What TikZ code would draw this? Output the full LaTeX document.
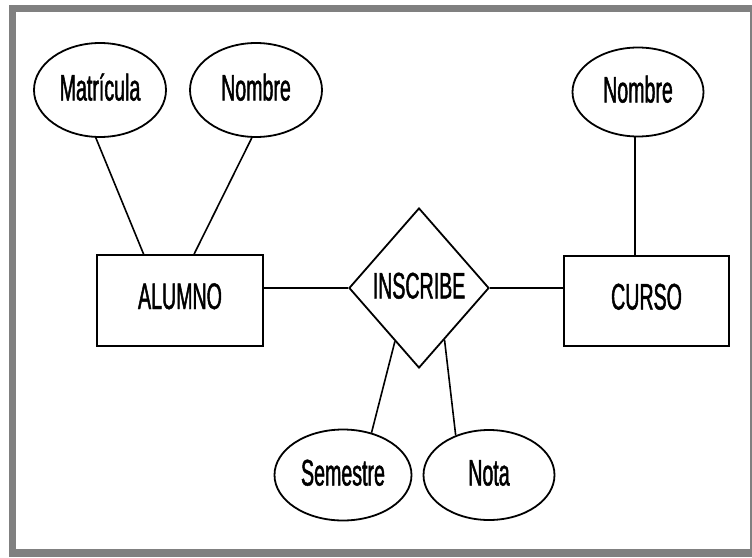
\documentclass[tikz,border=0pt]{standalone}
\usepackage{fontspec}
\setmainfont[FakeStretch=0.53, FakeBold=1.2]{Liberation Sans}
\usetikzlibrary{shapes.geometric,calc}

\tikzset{
  lbl/.style={font=\fontsize{37}{40}\selectfont, text height=27pt, text depth=6pt, inner sep=0pt},
  attr/.style={lbl, draw, ellipse, line width=1.8pt},
  entity/.style={lbl, draw, rectangle, line width=1.8pt, text depth=10pt},
  rel/.style={lbl, draw, diamond, line width=1.8pt},
  link/.style={line width=1.6pt},
  frame/.style={fill={rgb,255:red,128;green,128;blue,128}}
}

\begin{document}
\begin{tikzpicture}[x=1pt, y=-1pt]
  \useasboundingbox (0,0) rectangle (752,557);
  % grey page frame
  \fill[frame] (9,5) rectangle (752,557);
  \fill[white] (16,12) rectangle (750,549);

  % entities
  \node[entity, minimum width=166pt, minimum height=91pt] (alumno) at (180,300.5) {ALUMNO};
  \node[entity, minimum width=165pt, minimum height=90pt] (curso) at (646.5,301) {CURSO};

  % relationship
  \node[rel, minimum width=140pt, minimum height=160pt] (ins) at (419,288) {INSCRIBE};

  % attributes
  \node[attr, minimum width=132pt, minimum height=94pt] (mat) at (100,90) {Matrícula};
  \node[attr, minimum width=132pt, minimum height=94pt] (nomA) at (256,90) {Nombre};
  \node[attr, minimum width=131pt, minimum height=89pt] (nomC) at (638,92) {Nombre};
  \node[attr, minimum width=137pt, minimum height=91pt] (sem) at (343,475) {Semestre};
  \node[attr, minimum width=131pt, minimum height=90pt] (nota) at (489,475) {Nota};

  % attribute links
  \draw[link] (mat.265) -- ($(alumno.north west)!0.283!(alumno.north east)$);
  \draw[link] (nomA.265) -- ($(alumno.north west)!0.584!(alumno.north east)$);
  \draw[link] (nomC.266) -- (nomC.266 |- curso.north);
  \draw[link] ($(ins.west)!0.66!(ins.south)$) -- (sem.56);
  \draw[link] ($(ins.south)!0.36!(ins.east)$) -- (nota.130);

  % relationship links
  \draw[link] (ins.west) -- (ins.west -| alumno.east);
  \draw[link] (ins.east) -- (ins.east -| curso.west);
\end{tikzpicture}
\end{document}
